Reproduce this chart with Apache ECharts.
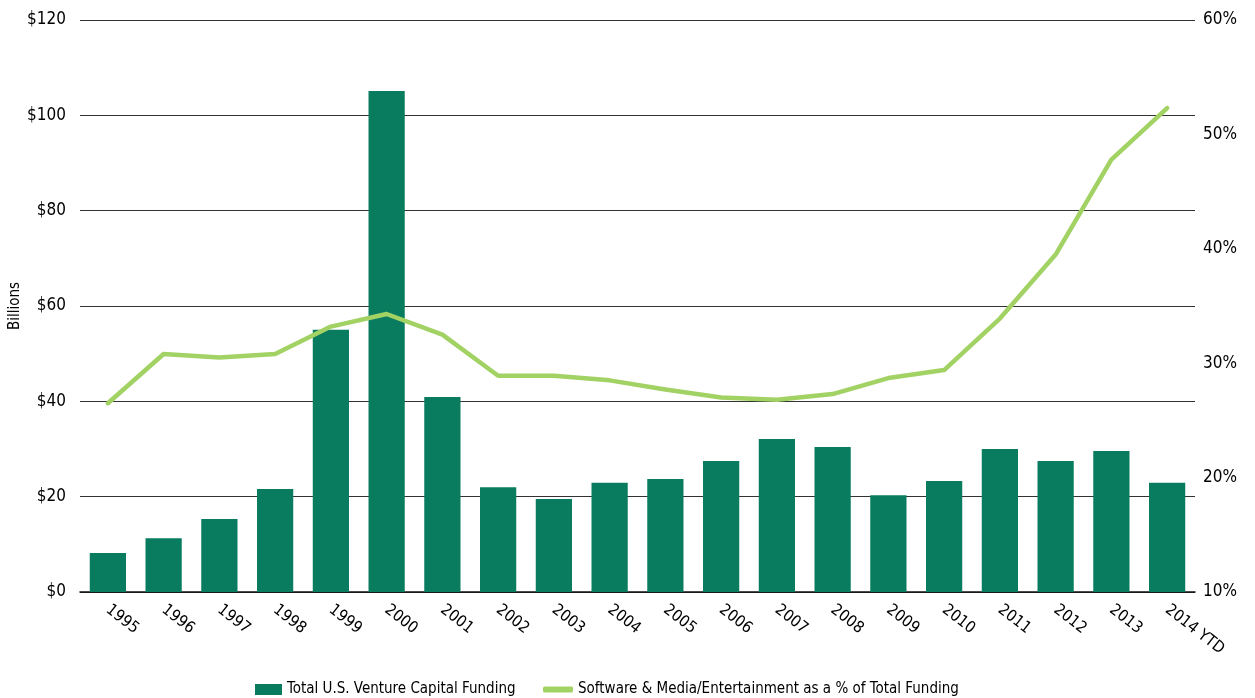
<!DOCTYPE html>
<html>
<head>
<meta charset="utf-8">
<script src="https://cdn.jsdelivr.net/npm/echarts@6/dist/echarts.min.js"></script>
<style>html,body{margin:0;padding:0;background:#fff}#c{width:1255px;height:698px}</style>
</head>
<body>
<div id="c"></div>
<script>
const years = ['1995','1996','1997','1998','1999','2000','2001','2002','2003','2004','2005','2006','2007','2008','2009','2010','2011','2012','2013','2014 YTD'];
const funding = [8.2,11.3,15.3,21.6,55.0,105.1,40.9,22.0,19.5,22.9,23.7,27.5,32.1,30.4,20.3,23.3,30.0,27.5,29.6,22.9];
const softwareShare = [26.5,30.8,30.5,30.8,33.2,34.3,32.5,28.9,28.9,28.5,27.7,27.0,26.8,27.3,28.7,29.4,33.9,39.5,47.8,52.3];
const leftTicks = ['$0','$20','$40','$60','$80','$100','$120'];
const rightTicks = ['10%','20%','30%','40%','50%','60%'];
const BAR_NAME = 'Total U.S. Venture Capital Funding';
const LINE_NAME = 'Software & Media/Entertainment as a % of Total Funding';

const FONT = '"Liberation Sans Narrow","DejaVu Sans Condensed","Roboto Condensed",sans-serif';
const chart = echarts.init(document.getElementById('c'));
chart.setOption({
  animation: false,
  textStyle: {fontFamily: FONT},
  grid: {left: 80, right: 60, top: 20, bottom: 106, containLabel: false, outerBoundsMode: 'none'},
  legend: [
    {
      left: 250, top: 677, itemWidth: 27, itemHeight: 11, itemGap: 10,
      textStyle: {fontFamily: FONT, fontSize: 15, color: '#000'},
      data: [{name: BAR_NAME, icon: 'rect'}]
    },
    {
      left: 538, top: 677, itemWidth: 30, itemHeight: 6, itemGap: 10,
      textStyle: {fontFamily: FONT, fontSize: 15, color: '#000'},
      data: [{name: LINE_NAME, icon: 'roundRect'}]
    }
  ],
  xAxis: {
    type: 'category', data: years,
    axisLine: {lineStyle: {color: '#111', width: 1.5}},
    axisTick: {show: false},
    axisLabel: {rotate: -38, fontSize: 16, color: '#000', fontFamily: FONT, margin: 16, interval: 0}
  },
  yAxis: [
    {
      type: 'value', min: 0, max: 120, interval: 20, position: 'left',
      name: 'Billions', nameLocation: 'middle', nameGap: 57, nameRotate: 90, nameMoveOverlap: false,
      nameTextStyle: {fontSize: 15, color: '#000', fontFamily: FONT},
      axisLine: {show: false}, axisTick: {show: false},
      axisLabel: {fontSize: 17, color: '#000', fontFamily: FONT, margin: 14,
        formatter: (v) => leftTicks[Math.round(v / 20)]},
      splitLine: {lineStyle: {color: '#333', width: 1.2}}
    },
    {
      type: 'value', min: 10, max: 60, interval: 10, position: 'right',
      axisLine: {show: false}, axisTick: {show: false},
      axisLabel: {fontSize: 17, color: '#000', fontFamily: FONT, margin: 8,
        formatter: (v) => rightTicks[Math.round((v - 10) / 10)]},
      splitLine: {show: false}
    }
  ],
  series: [
    {
      name: BAR_NAME, type: 'bar', yAxisIndex: 0,
      data: funding, barCategoryGap: '35%',
      itemStyle: {color: '#097c60'}
    },
    {
      name: LINE_NAME, type: 'line', yAxisIndex: 1,
      data: softwareShare, symbol: 'none', smooth: false,
      lineStyle: {color: '#a2d264', width: 4.5, cap: 'round', join: 'round'},
      itemStyle: {color: '#a2d264'}
    }
  ]
});
</script>
</body>
</html>
